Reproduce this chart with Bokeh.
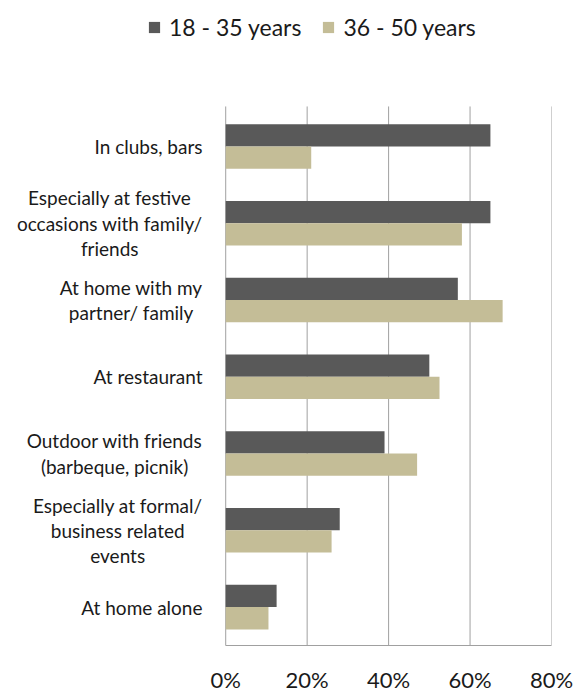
from bokeh.plotting import figure
from bokeh.models import (Range1d, FixedTicker, NumeralTickFormatter,
                          Label, Legend, LegendItem, ColumnDataSource)
from bokeh.transform import dodge
from bokeh.embed import file_html
from bokeh.resources import INLINE

# ---- data ----
categories = [
    "In clubs, bars",
    "Especially at festive occasions with family/ friends",
    "At home with my partner/ family",
    "At restaurant",
    "Outdoor with friends (barbeque, picnik)",
    "Especially at formal/ business related events",
    "At home alone",
]
category_labels = [
    "In clubs, bars",
    "Especially at festive\noccasions with family/\nfriends",
    "At home with my\npartner/ family",
    "At restaurant",
    "Outdoor with friends\n(barbeque, picnik)",
    "Especially at formal/\nbusiness related\nevents",
    "At home alone",
]
series_names = ["18 - 35 years", "36 - 50 years"]
young = [0.65, 0.65, 0.57, 0.50, 0.39, 0.28, 0.125]
older = [0.21, 0.58, 0.68, 0.525, 0.47, 0.26, 0.105]
x_ticks = [0, 0.2, 0.4, 0.6, 0.8]

DARK = "#595959"
TAN = "#c4bd97"
GRID = "#a0a0a0"
TEXT = "#1a1a1a"
FONT = "Lato"

n = len(categories)
pos = [n - 1 - i for i in range(n)]  # first category at the top
src = ColumnDataSource(dict(cat=categories, pos=pos, young=young, older=older))

# The frame is extended to the left and upward so that the category labels
# and the legend (annotations are clipped to the frame) stay visible.
p = figure(width=575, height=695,
           x_range=Range1d(-0.553, 0.8),
           y_range=Range1d(-0.5, n - 0.5 + 1.40),
           output_backend="svg", toolbar_location=None,
           min_border_left=0, min_border_right=24,
           min_border_top=0, min_border_bottom=50)
p.outline_line_color = None
p.background_fill_color = "white"
p.border_fill_color = "white"

# vertical gridlines limited to the plot area
grid_src = ColumnDataSource(dict(x=x_ticks,
                                 y0=[-0.5] * len(x_ticks),
                                 y1=[n - 0.5 + 0.02] * len(x_ticks)))
p.segment(x0="x", y0="y0", x1="x", y1="y1", source=grid_src,
          line_color=GRID, line_width=1)

r1 = p.hbar(y=dodge("pos", 0.145), left=0, right="young",
            height=0.29, source=src, fill_color=DARK, line_color=None)
r2 = p.hbar(y=dodge("pos", -0.145), left=0, right="older",
            height=0.29, source=src, fill_color=TAN, line_color=None)

# axes
p.yaxis.visible = False
xa = p.xaxis[0]
xa.ticker = FixedTicker(ticks=x_ticks)
xa.formatter = NumeralTickFormatter(format="0%")
xa.bounds = (x_ticks[0], x_ticks[-1])
xa.axis_line_color = GRID
xa.axis_line_width = 1
xa.major_tick_line_color = None
xa.minor_tick_line_color = None
xa.major_label_text_font = FONT
xa.major_label_text_font_size = "22px"
xa.major_label_text_color = TEXT
xa.major_label_standoff = 14

p.xgrid.visible = False
p.ygrid.visible = False

# category labels (right-aligned block, centred lines)
for y, lab in zip(pos, category_labels):
    p.add_layout(Label(x=202, x_units="screen", y=y, y_units="data",
                       text=lab, anchor="center_right", text_align="center",
                       text_baseline="middle", text_font=FONT,
                       text_font_size="19px", text_color=TEXT,
                       text_line_height=1.1))

legend = Legend(items=[LegendItem(label=series_names[0], renderers=[r1]),
                       LegendItem(label=series_names[1], renderers=[r2])],
                orientation="horizontal", location=(147, 604),
                label_text_font=FONT, label_text_font_size="23px",
                label_text_color=TEXT, glyph_width=14, glyph_height=14,
                label_standoff=8, spacing=20, padding=0, margin=0,
                border_line_color=None, background_fill_alpha=0)
p.add_layout(legend)

open("out.html", "w").write(file_html(p, INLINE))
